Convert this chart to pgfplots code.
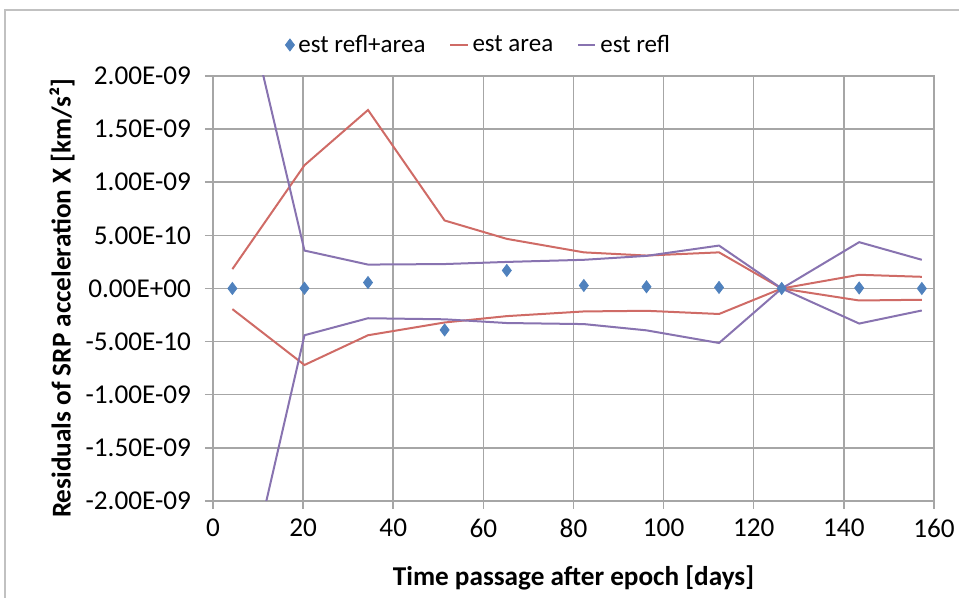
\documentclass[border=0pt]{standalone}
\usepackage{pgfplots}
\pgfplotsset{compat=1.18}
\usepackage{fontspec}
\setmainfont{Carlito}
\definecolor{cblue}{HTML}{4F81BD}
\definecolor{cred}{HTML}{CF6B66}
\definecolor{cpurple}{HTML}{8873B0}
\definecolor{cgrid}{HTML}{A6A6A6}
\pgfplotsset{shortline/.style={legend image code/.code={\draw[##1] (0cm,0cm) -- (0.3cm,0cm);}}}
\begin{document}
\begin{tikzpicture}
\begin{axis}[
  scale only axis,
  width=360.5pt, height=212.5pt,
  xmin=0, xmax=160, ymin=-2e-9, ymax=2e-9,
  scaled y ticks=false,
  xtick={0,20,...,160},
  ytick={-2e-9,-1.5e-9,-1e-9,-5e-10,0,5e-10,1e-9,1.5e-9,2e-9},
  yticklabels={-2.00E-09,-1.50E-09,-1.00E-09,-5.00E-10,0.00E+00,5.00E-10,1.00E-09,1.50E-09,2.00E-09},
  /pgf/number format/assume math mode=true,
  font=\fontsize{13.6}{16}\selectfont,
  tick label style={font=\fontsize{13.6}{16}\selectfont},
  xmajorgrids, ymajorgrids,
  grid style={cgrid, line width=0.75pt},
  axis line style={cgrid, line width=0.75pt},
  tick style={cgrid, line width=0.75pt},
  tick align=outside, major tick length=4pt,
  xtick pos=bottom, ytick pos=left,
  yticklabel style={xshift=-3.5pt},
  xticklabel style={yshift=-1.5pt},
  xlabel={\bfseries Time passage after epoch [days]},
  ylabel={\bfseries Residuals of SRP acceleration X [km/s²]},
  x label style={at={(axis description cs:0.5,-0.18)}, anchor=center},
  y label style={at={(axis description cs:-0.2094,0.477)}, anchor=center},
  legend style={draw=none, fill=none, at={(axis description cs:0.37,1.073)}, anchor=center,
    legend columns=-1, font=\fontsize{12.5}{14}\selectfont,
    /tikz/every even column/.append style={column sep=10pt}},
  legend cell align=left,
]
\addplot[only marks, mark=diamond*, mark size=3pt, color=cblue] coordinates {
(4.3,0) (20.3,0.02e-10) (34.4,0.56e-10) (51.4,-3.9e-10) (65.2,1.7e-10) (82.3,0.28e-10)
(96.2,0.16e-10) (112.3,0.1e-10) (126.2,0) (143.4,0.05e-10) (157.3,0)
};
\addlegendentry{est refl+area}
\addplot[color=cred, line width=1pt, shortline] coordinates {
(4.3,1.82e-10) (20.3,11.6e-10) (34.4,16.8e-10) (51.4,6.4e-10) (65.2,4.67e-10) (82.3,3.4e-10)
(96.2,3.1e-10) (112.3,3.4e-10) (126.2,0) (143.4,1.29e-10) (157.3,1.1e-10)
};
\addlegendentry{est area}
\addplot[color=cpurple, line width=1pt, shortline] coordinates {
(4.3,32.4e-10) (20.3,3.57e-10) (34.4,2.25e-10) (51.4,2.3e-10) (65.2,2.5e-10) (82.3,2.7e-10)
(96.2,3.07e-10) (112.3,4.04e-10) (126.2,0) (143.4,4.36e-10) (157.3,2.7e-10)
};
\addlegendentry{est refl}
\addplot[color=cred, line width=1pt, forget plot] coordinates {
(4.3,-1.94e-10) (20.3,-7.2e-10) (34.4,-4.4e-10) (51.4,-3.2e-10) (65.2,-2.6e-10) (82.3,-2.16e-10)
(96.2,-2.1e-10) (112.3,-2.4e-10) (126.2,0) (143.4,-1.13e-10) (157.3,-1.06e-10)
};
\addplot[color=cpurple, line width=1pt, forget plot] coordinates {
(4.3,-33.9e-10) (20.3,-4.4e-10) (34.4,-2.8e-10) (51.4,-2.9e-10) (65.2,-3.25e-10) (82.3,-3.35e-10)
(96.2,-3.94e-10) (112.3,-5.13e-10) (126.2,0) (143.4,-3.3e-10) (157.3,-2.07e-10)
};
\end{axis}
\pgfresetboundingbox
\useasboundingbox ([shift={(-106.5pt,-48.5pt)}]current axis.south west) rectangle ([shift={(12.5pt,38pt)}]current axis.north east);
\draw[cgrid!70, line width=0.8pt] ([shift={(-104pt,-60pt)}]current axis.south west) -- ([shift={(-104pt,33pt)}]current axis.north west) -- ([shift={(30pt,33pt)}]current axis.north east);
\end{tikzpicture}
\end{document}
